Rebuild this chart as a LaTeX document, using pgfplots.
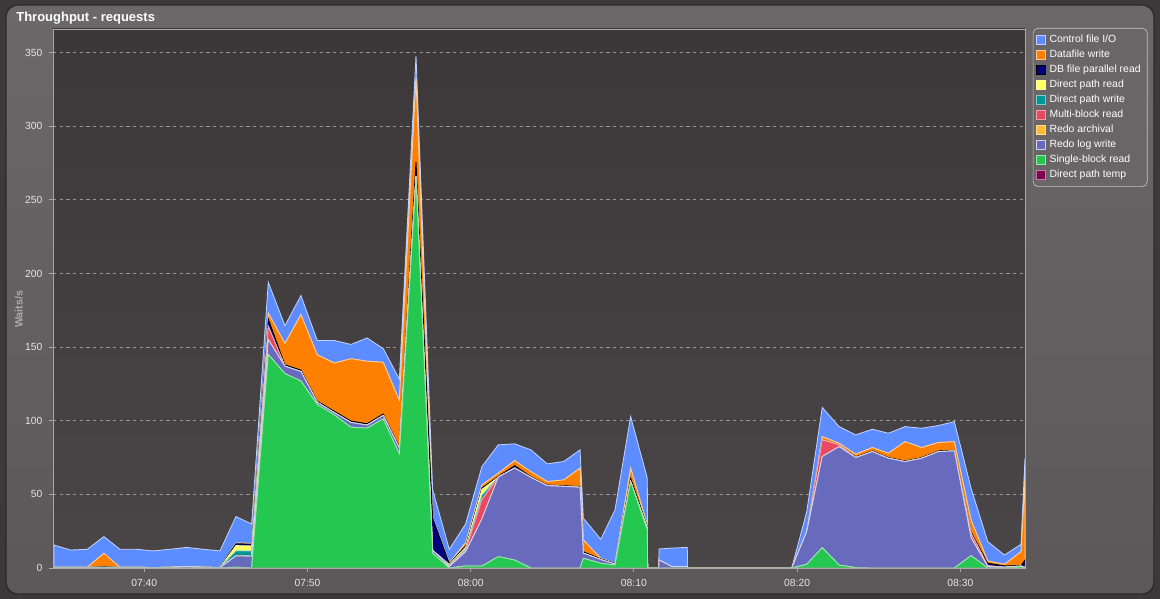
\documentclass[border=0pt]{standalone}
\usepackage{fontspec}
\setmainfont{Liberation Sans}
\usepackage{pgfplots}
\usepackage{pgfplotstable}
\pgfplotsset{compat=1.18}
\definecolor{cfi}{RGB}{92,140,255}
\definecolor{dfw}{RGB}{255,128,0}
\definecolor{dbp}{RGB}{0,0,128}
\definecolor{dpr}{RGB}{255,255,102}
\definecolor{dpw}{RGB}{0,150,150}
\definecolor{mbr}{RGB}{232,72,96}
\definecolor{arc}{RGB}{255,185,50}
\definecolor{rlw}{RGB}{104,106,190}
\definecolor{sbr}{RGB}{36,200,80}
\definecolor{tmp}{RGB}{130,0,80}
\definecolor{outer}{RGB}{60,57,58}
\definecolor{paneltop}{RGB}{108,104,106}
\definecolor{panelbot}{RGB}{92,88,90}
\definecolor{plottop}{RGB}{60,56,58}
\definecolor{plotbot}{RGB}{74,70,72}
\definecolor{axgrey}{RGB}{170,168,169}
\definecolor{gridgrey}{RGB}{150,148,149}
\definecolor{legfill}{RGB}{106,102,104}
\definecolor{labgrey}{RGB}{175,171,173}

\pgfplotstableread{
x temp sbr rlw arc mbr dpw dpr dbp dfw cfi
34.47 0 0 0.5 0 0 0 0 0 0 15.1
35.49 0 0 0.5 0 0 0 0 0 0 11.7
36.51 0 0 0.5 0 0 0 0 0 0 12.2
37.53 0 0 0.5 0 0 0 0 0.5 9.0 11.3
38.51 0 0 0.5 0 0 0 0 0 0 12.2
39.53 0 0 0.5 0 0 0 0 0 0 12.2
40.55 0 0 0.3 0 0 0 0 0 0 11.3
41.57 0 0 0.5 0 0 0 0 0 0 12.2
42.60 0 0 1.0 0 0 0 0 0 0 13.0
43.62 0 0 0.5 0 0 0 0 0 0 12.2
44.64 0 0 0.3 0 0 0 0 0 0 11.3
45.62 0 0.5 7.7 0 0 3.4 3.6 1.3 0.5 17.9
46.58 0 0 8.0 0 0 3.5 3.5 1.2 0.5 13.2
47.60 0 145 10 0 9 0 0 5 4 21
48.62 0 132 5 0 0 0 0 1 14.5 12
49.60 0 127 6.4 0 0 0 0 1 37.6 13
50.60 0 111 1.5 0 0 0 0 0.8 31.5 9.7
51.64 0 104 1.5 0 0 0 0 1 32.7 15.3
52.67 0 95.6 3.2 0 0 0 0 1 42.3 9.7
53.65 0 95 2 0 0 0 0 1 42.4 15.8
54.64 0 101.2 2.4 0 0 0 0 1 35.1 9.3
55.63 0 77.5 3.8 0 0 0 0 1 31.5 14.5
56.65 0 264 2 0 0 0 0 10 56 15.5
57.67 0 10 2 0 0 0 0 22 0.5 18.5
58.69 0 0 1 0 0.5 0.5 0.5 0.5 0.5 9.2
59.69 0 1.4 9.6 0 1 1 1 1 2.2 12.7
60.69 0 1.4 32 0 13 3 4 1 2 12.5
61.69 0 7.7 54 0 0 0 0 0.5 2.2 19.2
62.70 0 5.4 62.5 0 0 0 0 1.6 3.4 11.4
63.69 0 0 61.5 0 0 0 0 0.5 3.4 14.8
64.69 0 0 55.9 0 0 0 0 0.5 2.3 12
65.70 0 0 55.4 0 0 0 0 0.5 3.9 12.5
66.70 0 0 54.8 0 0 0 0 0.5 12.5 12.4
66.90 0 6.6 3.5 0 0 0 0 1 7.9 14.8
67.97 0 3.2 2.5 0 0 0 0 0.5 0.4 12.9
68.84 0 2 0.7 0 0 0 0 0.5 0 36.2
69.80 0 58.7 0 0 0 0 0 2.3 6.8 35
70.82 0 25.8 0.5 0 0 0 1.5 0.5 1 31.8
70.84 0 0 0 0 0 0 0 0 0 0
71.52 0 0 0 0 0 0 0 0 0 0
71.54 0 0 5.4 0 0 0 0 0 0 7.5
72.32 0 0 1 0 0 0 0 0 0 12.5
73.27 0 0 1 0 0 0 0 0 0 13
73.29 0 0 0 0 0 0 0 0 0 0
79.67 0 0 0 0 0 0 0 0 0 0
80.59 0 2.5 22.2 0 0 0 0 0 0 13.6
81.54 0 13.8 61.9 0 11.3 0 0 0 2.2 19.8
82.57 0 2 80.4 0 1.2 0 0 0 1.1 11.3
83.59 0 0.3 74.7 0 0 0 0 0.5 1.8 13.1
84.61 0 0 79 0 0 0 0 0.5 2.3 12.4
85.59 0 0 74.5 0 0 0 0 0.5 2.9 13.6
86.61 0 0 72.2 0 0 0 0 0.5 13.1 10.2
87.63 0 0 74.5 0 0 0 0 0.5 6.8 13.1
88.65 0 0 79 0 0 0 0 0.5 5.7 11.5
89.63 0 0 79.5 0 0 0 0 0.5 5.8 13.6
90.66 0 8.4 12 0 3 0 0 1 8 21.6
91.68 0 0 1 0 0.5 0 0 1.7 1.6 13.1
92.70 0 0 0.5 0 0 0 0 1 1 6.3
93.72 0 1 0.3 0 0 0 0 0.3 9.5 5
93.96 0 0 0.5 0 0 0 0 5 55 14
}\datatable

\begin{document}
\begin{tikzpicture}
\begin{scope}[x=0.6pt,y=0.6pt]
\fill[outer] (0,0) rectangle (1160,599);
\shade[top color=paneltop, bottom color=panelbot, rounded corners=7pt] (6,5) rectangle (1154,594);
\draw[rounded corners=7pt, color=black!60!paneltop, line width=0.8pt] (6,5) rectangle (1154,594);
\node[anchor=base west, inner sep=0pt, text=white, font=\bfseries\fontsize{7.8}{9}\selectfont] at (16,577) {Throughput - requests};
\end{scope}
\begin{axis}[
  at={(31.8pt,18.6pt)}, anchor=south west,
  scale only axis,
  width=583.2pt, height=323.4pt,
  xmin=34.41, xmax=93.96,
  ymin=0, ymax=366,
  stack plots=y,
  axis background/.style={top color=plottop, bottom color=plotbot},
  axis line style={axgrey, line width=0.5pt},
  xtick={40,50,60,70,80,90},
  xticklabels={07:40,07:50,08:00,08:10,08:20,08:30},
  ytick={0,50,100,150,200,250,300,350},
  xtick pos=bottom, ytick pos=left,
  tick align=outside,
  major tick length=2.2pt,
  tick style={axgrey, line width=0.5pt},
  ymajorgrids,
  major grid style={gridgrey, dash pattern=on 2pt off 2pt, line width=0.4pt},
  /pgf/number format/assume math mode=true,
  ticklabel style={text=white!90!black, font=\fontsize{6.2}{7}\selectfont},
  yticklabel style={xshift=-0.6pt},
  xticklabel style={yshift=-1.2pt},
  ylabel={Waits/s},
  ylabel style={at={(axis description cs:-0.035,0.48)}, anchor=center, text=labgrey, font=\bfseries\fontsize{6.4}{7}\selectfont},
  reverse legend,
  legend cell align=left,
  legend style={at={(1.008,1.002)}, anchor=north west, fill=legfill, draw=white!60!legfill, rounded corners=3pt,
    text=white, font=\fontsize{6.26}{7.2}\selectfont, row sep=0pt, inner xsep=2pt, inner ysep=2.5pt,
    nodes={text height=4.7pt, text depth=1.3pt, inner ysep=1.5pt}},
  legend image code/.code={\fill[#1, sharp corners] (0pt,-2.6pt) rectangle (5.4pt,2.6pt);},
  every axis plot/.append style={no markers, line width=0.5pt},
]
\addplot[fill=tmp, draw=tmp!50!white] table[x=x,y=temp]{\datatable} \closedcycle;
\addlegendentry{Direct path temp}
\addplot[fill=sbr, draw=sbr!45!white] table[x=x,y=sbr]{\datatable} \closedcycle;
\addlegendentry{Single-block read}
\addplot[fill=rlw, draw=rlw!30!white] table[x=x,y=rlw]{\datatable} \closedcycle;
\addlegendentry{Redo log write}
\addplot[fill=arc, draw=arc!50!white] table[x=x,y=arc]{\datatable} \closedcycle;
\addlegendentry{Redo archival}
\addplot[fill=mbr, draw=mbr!50!white] table[x=x,y=mbr]{\datatable} \closedcycle;
\addlegendentry{Multi-block read}
\addplot[fill=dpw, draw=dpw!50!white] table[x=x,y=dpw]{\datatable} \closedcycle;
\addlegendentry{Direct path write}
\addplot[fill=dpr, draw=dpr!60!white] table[x=x,y=dpr]{\datatable} \closedcycle;
\addlegendentry{Direct path read}
\addplot[fill=dbp, draw=black] table[x=x,y=dbp]{\datatable} \closedcycle;
\addlegendentry{DB file parallel read}
\addplot[fill=dfw, draw=dfw!40!white] table[x=x,y=dfw]{\datatable} \closedcycle;
\addlegendentry{Datafile write}
\addplot[fill=cfi, draw=cfi!40!white] table[x=x,y=cfi]{\datatable} \closedcycle;
\addlegendentry{Control file I/O}
\end{axis}
\end{tikzpicture}
\end{document}
